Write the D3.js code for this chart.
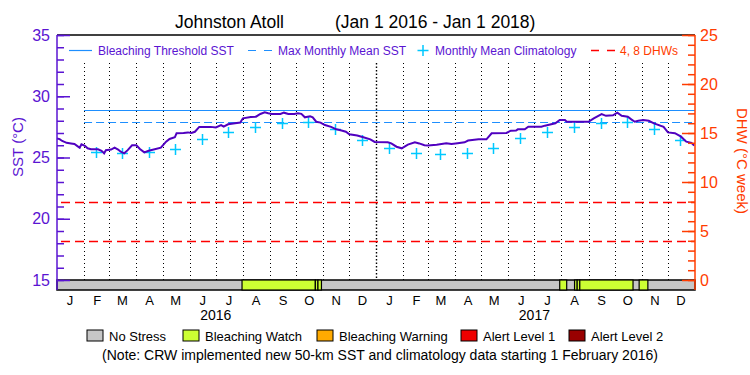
<!DOCTYPE html>
<html>
<head>
<meta charset="utf-8">
<script src="https://cdn.jsdelivr.net/npm/d3@7"></script>
<style>
  body { margin: 0; background: #fff; }
  text { font-family: "Liberation Sans", Arial, sans-serif; }
</style>
</head>
<body>
<div id="chart"></div>
<script>
// daily SST
var sstDates = ["2016-01-01","2016-01-04","2016-01-07","2016-01-12","2016-01-17","2016-01-21","2016-01-24","2016-01-27","2016-01-29",
  "2016-02-02","2016-02-05","2016-02-09","2016-02-17","2016-02-21","2016-02-24","2016-02-26",
  "2016-03-03","2016-03-07","2016-03-11","2016-03-14","2016-03-18","2016-03-22","2016-03-27",
  "2016-04-01","2016-04-05","2016-04-10","2016-04-15","2016-04-22","2016-04-29",
  "2016-05-05","2016-05-09","2016-05-15","2016-05-17","2016-05-25","2016-05-30",
  "2016-06-03","2016-06-07","2016-06-12","2016-06-25",
  "2016-07-01","2016-07-07","2016-07-10","2016-07-15","2016-07-23","2016-07-29",
  "2016-08-01","2016-08-10","2016-08-16","2016-08-21","2016-08-26","2016-08-30",
  "2016-09-03","2016-09-13","2016-09-17","2016-09-22","2016-09-29",
  "2016-10-03","2016-10-07","2016-10-11","2016-10-17","2016-10-20","2016-10-24","2016-10-29",
  "2016-11-03","2016-11-10","2016-11-16","2016-11-22","2016-11-27",
  "2016-12-01","2016-12-10","2016-12-17","2016-12-25","2016-12-30",
  "2017-01-14","2017-01-18","2017-01-24","2017-01-30",
  "2017-02-06","2017-02-14","2017-02-19","2017-02-25",
  "2017-03-01","2017-03-11","2017-03-22","2017-03-28",
  "2017-04-04","2017-04-12","2017-04-16","2017-04-28",
  "2017-05-07","2017-05-13","2017-05-30",
  "2017-06-04","2017-06-10","2017-06-12","2017-06-20","2017-06-24",
  "2017-07-09","2017-07-13","2017-07-25","2017-07-30",
  "2017-08-05","2017-08-07","2017-09-01","2017-09-07","2017-09-16","2017-09-21","2017-09-29",
  "2017-10-04","2017-10-09","2017-10-16","2017-10-20","2017-10-24","2017-10-28",
  "2017-11-03","2017-11-09","2017-11-15","2017-11-26",
  "2017-12-01","2017-12-09","2017-12-16","2017-12-22","2017-12-28","2017-12-31"];
var sstValues = [26.55,26.5,26.35,26.2,26.15,26.1,25.95,25.8,26.08,
  25.95,25.75,25.67,25.67,25.55,25.34,25.6,
  25.65,25.8,25.65,25.47,25.34,25.6,25.99,
  25.99,25.7,25.42,25.55,25.67,25.8,
  26.29,26.51,26.65,26.98,27.0,27.05,
  27.0,27.1,27.5,27.5,
  27.45,27.65,27.52,27.71,27.79,27.85,
  28.2,28.3,28.33,28.55,28.69,28.62,
  28.56,28.56,28.66,28.56,28.56,
  28.61,28.56,28.28,28.36,28.28,27.92,27.85,
  27.65,27.5,27.3,27.2,27.1,
  26.89,26.8,26.65,26.48,26.27,
  26.25,26.15,25.88,25.75,
  26.05,26.24,26.15,26.0,
  25.97,26.05,26.16,26.1,
  26.16,26.24,26.38,26.48,
  26.48,26.98,27.0,
  27.19,27.2,27.3,27.3,27.51,
  27.51,27.6,27.79,28.06,
  28.06,27.92,27.92,28.2,28.55,28.4,28.45,
  28.66,28.4,28.33,28.11,27.92,28.0,
  28.06,28.0,27.79,27.5,
  27.05,26.98,26.7,26.29,26.2,25.97];

// monthly mean climatology
var climDates = ["2016-02-15","2016-03-15","2016-04-15","2016-05-15","2016-06-15","2016-07-15","2016-08-15","2016-09-15","2016-10-15","2016-11-15","2016-12-15",
  "2017-01-15","2017-02-15","2017-03-15","2017-04-15","2017-05-15","2017-06-15","2017-07-15","2017-08-15","2017-09-15","2017-10-15","2017-11-15","2017-12-15"];
var climValues = [25.42,25.34,25.42,25.72,26.55,27.05,27.45,27.85,27.92,27.32,26.43,
  25.75,25.39,25.29,25.39,25.75,26.56,27.05,27.46,27.8,27.92,27.3,26.43];

var mmm = 27.9, threshold = 28.9;
var dhwLevels = [4, 8];
var lineStart = "2016-02-01";

// bleaching alert status bar
var statusStart = ["2016-07-31","2016-10-23","2016-10-26","2017-07-30","2017-08-16","2017-08-19","2017-08-22","2017-10-29"];
var statusEnd   = ["2016-10-23","2016-10-26","2016-10-30","2017-08-07","2017-08-19","2017-08-22","2017-10-22","2017-11-08"];
var statusLevel = [1,1,1,1,1,1,1,1];

var monthLetters = ["J","F","M","A","M","J","J","A","S","O","N","D"];
var yearLabels = ["2016","2017"];
var sstTicks = [15,20,25,30,35];
var dhwTicks = [0,5,10,15,20,25];

var legendNames = ["No Stress","Bleaching Watch","Bleaching Warning","Alert Level 1","Alert Level 2"];
var legendColors = ["#c6c6c6","#ccff33","#ffaa00","#ee0000","#990000"];

var purple = "#5a14d2", lineCol = "#5000c0", blue = "#1e8fff", cyan = "#00c8ff", red = "#ff0000", orange = "#ff3c00";

var parse = d3.timeParse("%Y-%m-%d");
var W = 750, H = 375;
var plotL = 57, plotR = 695, plotT = 35, plotB = 280;

var svg = d3.select("#chart").append("svg")
    .attr("width", W).attr("height", H)
    .style("background", "#fff");

var x = d3.scaleTime().domain([parse("2016-01-01"), parse("2018-01-01")]).range([plotL, plotR]);
var y = d3.scaleLinear().domain([15, 35]).range([plotB, plotT]);
var yd = d3.scaleLinear().domain([0, 25]).range([plotB, plotT]);
function crisp(v) { return Math.round(v) + 0.5; }

// title
svg.append("text").attr("x", 175).attr("y", 28).attr("font-size", 17.5).attr("fill", "#000")
    .text("Johnston Atoll");
svg.append("text").attr("x", 335).attr("y", 28).attr("font-size", 17.5).attr("fill", "#000")
    .text("(Jan 1 2016 - Jan 1 2018)");

// month separators
var months = d3.timeMonth.range(parse("2016-02-01"), parse("2018-01-01"));
svg.append("g").selectAll("line")
    .data(months)
    .enter().append("line")
    .attr("x1", function(d) { return crisp(x(d)); })
    .attr("x2", function(d) { return crisp(x(d)); })
    .attr("y1", 63).attr("y2", plotB)
    .attr("stroke", "#000")
    .attr("stroke-width", function(d) { return d.getMonth() === 0 ? 1.4 : 1; })
    .attr("stroke-dasharray", function(d) { return d.getMonth() === 0 ? "1.5,2" : "1,3"; });

// DHW lines
svg.append("g").selectAll("line")
    .data(dhwLevels)
    .enter().append("line")
    .attr("x1", plotL + 4).attr("x2", plotR)
    .attr("y1", function(d) { return crisp(yd(d)); })
    .attr("y2", function(d) { return crisp(yd(d)); })
    .attr("stroke", red).attr("stroke-width", 1.3)
    .attr("stroke-dasharray", "9,5");

// threshold + MMM
svg.append("line")
    .attr("x1", x(parse(lineStart))).attr("x2", plotR)
    .attr("y1", crisp(y(threshold))).attr("y2", crisp(y(threshold)))
    .attr("stroke", blue).attr("stroke-width", 1.2);
svg.append("line")
    .attr("x1", x(parse(lineStart))).attr("x2", plotR)
    .attr("y1", crisp(y(mmm))).attr("y2", crisp(y(mmm)))
    .attr("stroke", blue).attr("stroke-width", 1.2)
    .attr("stroke-dasharray", "8,4");

// climatology crosses
svg.append("g").selectAll("path")
    .data(climDates.map(function(d, i) { return {date: parse(d), value: climValues[i]}; }))
    .enter().append("path")
    .attr("d", function(d) {
        var cx = crisp(x(d.date)), cy = crisp(y(d.value));
        return "M" + (cx - 5.5) + "," + cy + "H" + (cx + 5.5) + "M" + cx + "," + (cy - 5.5) + "V" + (cy + 5.5);
    })
    .attr("stroke", cyan).attr("stroke-width", 1.5);

// SST line
var sstData = sstDates.map(function(d, i) { return {date: parse(d), value: sstValues[i]}; });
var line = d3.line()
    .x(function(d) { return x(d.date); })
    .y(function(d) { return y(d.value); });
svg.append("path")
    .datum(sstData)
    .attr("d", line)
    .attr("fill", "none")
    .attr("stroke", lineCol)
    .attr("stroke-width", 2)
    .attr("stroke-linejoin", "miter");

// status bar
svg.append("rect")
    .attr("x", plotL).attr("y", plotB).attr("width", plotR - plotL).attr("height", 10)
    .attr("fill", legendColors[0]).attr("stroke", "#000").attr("stroke-width", 1.5);
svg.append("g").selectAll("rect")
    .data(statusStart.map(function(d, i) { return {s: parse(d), e: parse(statusEnd[i]), l: statusLevel[i]}; }))
    .enter().append("rect")
    .attr("x", function(d) { return x(d.s); })
    .attr("width", function(d) { return x(d.e) - x(d.s); })
    .attr("y", plotB).attr("height", 10)
    .attr("fill", function(d) { return legendColors[d.l]; })
    .attr("stroke", "#000").attr("stroke-width", 1.2);

// top border
svg.append("line").attr("x1", plotL).attr("x2", plotR).attr("y1", plotT).attr("y2", plotT)
    .attr("stroke", "#000").attr("stroke-width", 1.5);

// left axis
var gl = svg.append("g").attr("transform", "translate(" + plotL + ",0)");
gl.append("g").call(d3.axisLeft(y).tickValues(d3.range(15, 36)).tickSize(-7).tickFormat(""));
gl.append("g").call(d3.axisLeft(y).tickValues(sstTicks).tickSize(-13).tickPadding(7).tickSizeOuter(0));
gl.selectAll("line").attr("stroke", purple).attr("stroke-width", 1.5);
gl.selectAll(".domain").remove();
gl.selectAll("text").attr("fill", purple).attr("font-size", 16)
    .attr("font-family", "Liberation Sans, Arial, sans-serif");
svg.append("line").attr("x1", plotL).attr("x2", plotL).attr("y1", plotT).attr("y2", plotB + 10)
    .attr("stroke", purple).attr("stroke-width", 1.5);
svg.append("text")
    .attr("transform", "translate(23,147) rotate(-90)")
    .attr("text-anchor", "middle").attr("font-size", 15).attr("fill", purple)
    .text("SST (°C)");

// right axis
var gr = svg.append("g").attr("transform", "translate(" + plotR + ",0)");
gr.append("g").call(d3.axisRight(yd).tickValues(d3.range(0, 26)).tickSize(-7).tickFormat(""));
gr.append("g").call(d3.axisRight(yd).tickValues(dhwTicks).tickSize(-13).tickPadding(5).tickSizeOuter(0));
gr.selectAll("line").attr("stroke", orange).attr("stroke-width", 1.5);
gr.selectAll(".domain").remove();
gr.selectAll("text").attr("fill", orange).attr("font-size", 16)
    .attr("font-family", "Liberation Sans, Arial, sans-serif");
svg.append("line").attr("x1", plotR).attr("x2", plotR).attr("y1", plotT).attr("y2", plotB + 10)
    .attr("stroke", orange).attr("stroke-width", 1.5);
svg.append("text")
    .attr("transform", "translate(737,161) rotate(90)")
    .attr("text-anchor", "middle").attr("font-size", 15).attr("fill", orange)
    .text("DHW (°C week)");

// month letters + years
var mids = d3.timeMonth.range(parse("2016-01-01"), parse("2018-01-01"));
svg.append("g").selectAll("text")
    .data(mids)
    .enter().append("text")
    .attr("x", function(d) { return x(d3.timeDay.offset(d, 15)); })
    .attr("y", 305)
    .attr("text-anchor", "middle").attr("font-size", 13).attr("fill", "#000")
    .text(function(d) { return monthLetters[d.getMonth()]; });
svg.append("g").selectAll("text")
    .data(yearLabels)
    .enter().append("text")
    .attr("x", function(d) { return x(parse(d + "-07-01")); })
    .attr("y", 320)
    .attr("text-anchor", "middle").attr("font-size", 14).attr("fill", "#000")
    .text(function(d) { return d; });

// top legend
var lg = svg.append("g").attr("font-size", 12);
lg.append("line").attr("x1", 69).attr("x2", 92).attr("y1", 50.5).attr("y2", 50.5)
    .attr("stroke", blue).attr("stroke-width", 1.2);
lg.append("text").attr("x", 98).attr("y", 55).attr("fill", purple).text("Bleaching Threshold SST");
lg.append("line").attr("x1", 248).attr("x2", 272).attr("y1", 50.5).attr("y2", 50.5)
    .attr("stroke", blue).attr("stroke-width", 1.2).attr("stroke-dasharray", "8,8");
lg.append("text").attr("x", 278).attr("y", 55).attr("fill", purple).text("Max Monthly Mean SST");
lg.append("path").attr("d", "M417.5,50.5H428.5M423,45V56").attr("stroke", cyan).attr("stroke-width", 1.5);
lg.append("text").attr("x", 435).attr("y", 55).attr("fill", purple).text("Monthly Mean Climatology");
lg.append("line").attr("x1", 591).attr("x2", 615).attr("y1", 50.5).attr("y2", 50.5)
    .attr("stroke", red).attr("stroke-width", 1.3).attr("stroke-dasharray", "8,8");
lg.append("text").attr("x", 620).attr("y", 55).attr("fill", orange).text("4, 8 DHWs");

// bottom legend
var legX = [87, 183, 317, 461, 569];
var bl = svg.append("g").selectAll("g")
    .data(legendNames)
    .enter().append("g")
    .attr("transform", function(d, i) { return "translate(" + legX[i] + ",330)"; });
bl.append("rect").attr("width", 16).attr("height", 11)
    .attr("fill", function(d, i) { return legendColors[i]; })
    .attr("stroke", "#000").attr("stroke-width", 1);
bl.append("text").attr("x", 22).attr("y", 10.5).attr("font-size", 13).attr("fill", "#000")
    .text(function(d) { return d; });

svg.append("text").attr("x", 380).attr("y", 360).attr("text-anchor", "middle")
    .attr("font-size", 14).attr("fill", "#000")
    .text("(Note: CRW implemented new 50-km SST and climatology data starting 1 February 2016)");
</script>
</body>
</html>
